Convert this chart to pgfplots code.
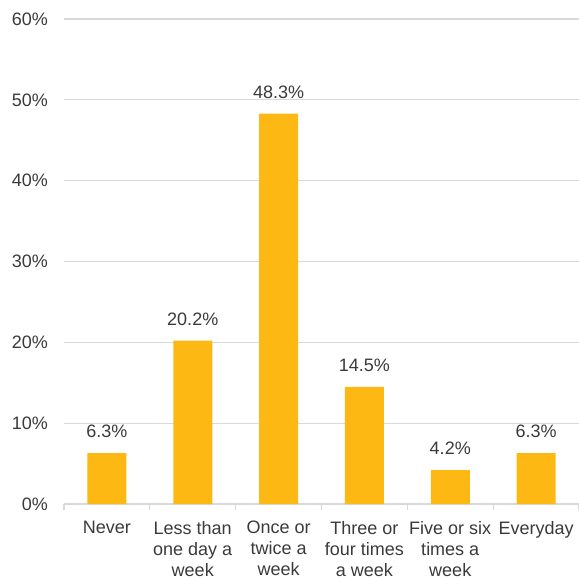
\documentclass[border=0pt]{standalone}
\usepackage{fontspec}
\setmainfont{Liberation Sans}
\usepackage{pgfplots}
\pgfplotsset{compat=1.18}
\definecolor{barorange}{HTML}{FDB813}
\definecolor{gridgray}{HTML}{D9D9D9}
\definecolor{textgray}{HTML}{3A3A3A}
\begin{document}
\begin{tikzpicture}
\begin{axis}[
  name=ax,
  scale only axis,
  width=257.5pt, height=242.5pt,
  xmin=-0.5, xmax=5.5, ymin=0, ymax=60,
  enlargelimits=false,
  ybar, bar width=19.5pt,
  axis lines*=left,
  x axis line style={gridgray, line width=0.6pt},
  y axis line style={draw=none},
  ytick={0,10,...,60},
  yticklabel={\pgfmathprintnumber{\tick}\%},
  ytick style={draw=none},
  ymajorgrids,
  grid style={gridgray, line width=0.6pt},
  xtick={-0.5,0.5,...,5.5},
  x tick label as interval,
  xticklabels={Never,{Less than\\one day a\\week},{Once or\\twice a\\week},{Three or\\four times\\a week},{Five or six\\times a\\week},Everyday},
  xtick style={gridgray, line width=0.6pt},
  tick align=outside,
  major tick length=3pt,
  /pgf/number format/assume math mode=true,
  ticklabel style={font=\fontsize{9}{10.5}\selectfont, text=textgray},
  xticklabel style={align=center, anchor=north, yshift=-2pt},
  yticklabel style={xshift=-1.5pt},
  nodes near coords={\pgfmathprintnumber[fixed,precision=1,fixed zerofill]{\pgfplotspointmeta}\%},
  nodes near coords style={font=\fontsize{9}{10.5}\selectfont, text=textgray, anchor=south, yshift=4pt, /pgf/number format/assume math mode=true},
]
\addplot[fill=barorange, draw=none] coordinates {
  (0,6.3) (1,20.2) (2,48.3) (3,14.5) (4,4.2) (5,6.3)
};
\end{axis}
\pgfresetboundingbox
\path[use as bounding box] ([xshift=-32pt,yshift=-36.5pt]ax.south west) rectangle ([yshift=9.5pt]ax.north east);
\end{tikzpicture}
\end{document}
